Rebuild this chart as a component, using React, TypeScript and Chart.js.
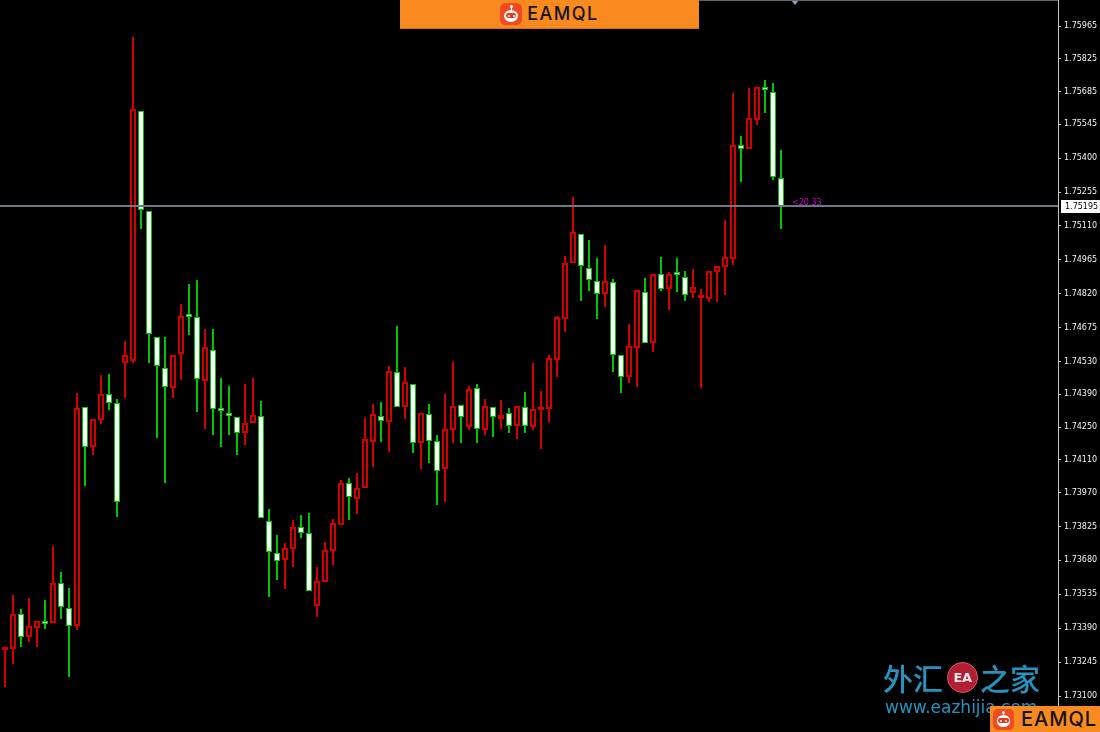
import React, { useEffect, useRef } from 'react';
import { Chart, registerables } from 'chart.js';

Chart.register(...registerables);

// Candle prices, oldest first
const opens = [
  1.73297, 1.73301, 1.73451, 1.73352, 1.73391, 1.73412, 1.73412, 1.73583, 1.73476, 1.73399,
  1.74336, 1.74165, 1.74280, 1.74391, 1.74353, 1.74524, 1.74533, 1.75602, 1.75174, 1.74635,
  1.74503, 1.74417, 1.74562, 1.74725, 1.74721, 1.74447, 1.74580, 1.74323, 1.74310, 1.74293,
  1.74225, 1.74267, 1.74297, 1.73848, 1.73712, 1.73682, 1.73729, 1.73823, 1.73797, 1.73485,
  1.73587, 1.73720, 1.73831, 1.74011, 1.73942, 1.73989, 1.74186, 1.74297, 1.74272, 1.74485,
  1.74336, 1.74434, 1.74182, 1.74306, 1.74190, 1.74071, 1.74237, 1.74344, 1.74250, 1.74417,
  1.74237, 1.74336, 1.74285, 1.74310, 1.74255, 1.74336, 1.74250, 1.74323, 1.74327, 1.74537,
  1.74712, 1.74952, 1.75076, 1.74930, 1.74875, 1.74819, 1.74870, 1.74558, 1.74464, 1.74588,
  1.74828, 1.74609, 1.74905, 1.74840, 1.74905, 1.74892, 1.74823, 1.74802, 1.74798, 1.74913,
  1.74934, 1.74969, 1.75456, 1.75439, 1.75563, 1.75696, 1.75683, 1.75315,
];

const highs = [
  1.73305, 1.73532, 1.73472, 1.73519, 1.73421, 1.73511, 1.73741, 1.73630, 1.73562, 1.74396,
  1.74336, 1.74285, 1.74473, 1.74477, 1.74370, 1.74618, 1.75918, 1.75602, 1.75174, 1.74635,
  1.74635, 1.74558, 1.74776, 1.74862, 1.74879, 1.74669, 1.74669, 1.74460, 1.74426, 1.74293,
  1.74434, 1.74460, 1.74361, 1.73900, 1.73788, 1.73754, 1.73853, 1.73874, 1.73883, 1.73652,
  1.73759, 1.73857, 1.74024, 1.74032, 1.74054, 1.74289, 1.74349, 1.74357, 1.74511, 1.74682,
  1.74507, 1.74434, 1.74310, 1.74349, 1.74216, 1.74391, 1.74528, 1.74344, 1.74426, 1.74434,
  1.74370, 1.74336, 1.74366, 1.74332, 1.74340, 1.74400, 1.74524, 1.74404, 1.74558, 1.74725,
  1.74982, 1.75234, 1.75076, 1.75050, 1.74973, 1.75029, 1.74883, 1.74558, 1.74691, 1.74836,
  1.74887, 1.74905, 1.74977, 1.74913, 1.74973, 1.74917, 1.74926, 1.74840, 1.74917, 1.74939,
  1.75135, 1.75679, 1.75495, 1.75700, 1.75704, 1.75734, 1.75721, 1.75435,
];

const lows = [
  1.73139, 1.73237, 1.73310, 1.73331, 1.73310, 1.73387, 1.73412, 1.73429, 1.73181, 1.73382,
  1.73998, 1.74131, 1.74263, 1.74323, 1.73865, 1.74374, 1.74524, 1.75097, 1.74524, 1.74203,
  1.74011, 1.74374, 1.74451, 1.74644, 1.74314, 1.74242, 1.74216, 1.74165, 1.74216, 1.74131,
  1.74173, 1.74267, 1.73861, 1.73523, 1.73596, 1.73558, 1.73652, 1.73776, 1.73549, 1.73438,
  1.73587, 1.73660, 1.73831, 1.73853, 1.73878, 1.73989, 1.74079, 1.74186, 1.74143, 1.74336,
  1.74285, 1.74139, 1.74071, 1.74096, 1.73917, 1.73930, 1.74182, 1.74182, 1.74237, 1.74182,
  1.74216, 1.74208, 1.74242, 1.74225, 1.74199, 1.74225, 1.74237, 1.74156, 1.74272, 1.74464,
  1.74657, 1.74952, 1.74789, 1.74832, 1.74712, 1.74763, 1.74485, 1.74396, 1.74438, 1.74421,
  1.74609, 1.74571, 1.74832, 1.74751, 1.74828, 1.74789, 1.74802, 1.74417, 1.74785, 1.74785,
  1.74815, 1.74943, 1.75298, 1.75439, 1.75542, 1.75593, 1.75307, 1.75097,
];

const closes = [
  1.73305, 1.73451, 1.73352, 1.73399, 1.73421, 1.73408, 1.73583, 1.73481, 1.73399, 1.74332,
  1.74165, 1.74285, 1.74391, 1.74353, 1.73930, 1.74558, 1.75610, 1.75178, 1.74648, 1.74511,
  1.74421, 1.74558, 1.74725, 1.74721, 1.74456, 1.74592, 1.74327, 1.74319, 1.74297, 1.74225,
  1.74267, 1.74302, 1.73861, 1.73716, 1.73677, 1.73733, 1.73823, 1.73797, 1.73549, 1.73592,
  1.73724, 1.73840, 1.74011, 1.73951, 1.73989, 1.74199, 1.74306, 1.74276, 1.74490, 1.74336,
  1.74443, 1.74182, 1.74310, 1.74190, 1.74062, 1.74242, 1.74340, 1.74293, 1.74413, 1.74242,
  1.74340, 1.74293, 1.74302, 1.74255, 1.74340, 1.74255, 1.74327, 1.74327, 1.74545, 1.74721,
  1.74952, 1.75084, 1.74939, 1.74879, 1.74819, 1.74875, 1.74558, 1.74464, 1.74597, 1.74836,
  1.74609, 1.74905, 1.74840, 1.74905, 1.74900, 1.74815, 1.74849, 1.74806, 1.74917, 1.74939,
  1.74977, 1.75456, 1.75439, 1.75572, 1.75704, 1.75691, 1.75319, 1.75195,
];

// Price scale labels, top to bottom
const priceTicks = [
  '1.75965', '1.75825', '1.75685', '1.75545', '1.75400', '1.75255', '1.75110',
  '1.74965', '1.74820', '1.74675', '1.74530', '1.74390', '1.74250', '1.74110',
  '1.73970', '1.73825', '1.73680', '1.73535', '1.73390', '1.73245', '1.73100',
];

const spreadLabel = '<20.33';
const brandName = 'EAMQL';
const siteTitleLeft = '外汇';
const siteTitleRight = '之家';
const siteBadge = 'EA';
const siteUrl = 'www.eazhijia.com';

const UP = '#d40000';
const DOWN = '#00c400';
const W = 1100;
const H = 732;
const AXIS_W = 42;
const SLOT = 8; // px per candle
const FIRST_X = 5;
const BANNER_RIGHT = 699;

function Logo({ size }: { size: number }) {
  const s = size;
  return (
    <div style={{ position: 'relative', width: s, height: s, borderRadius: s * 0.24, background: '#ef4a21', flex: 'none' }}>
      <div style={{ position: 'absolute', left: s / 2 - 1.5, top: s * 0.1, width: 3, height: 3, borderRadius: '50%', background: '#fff' }} />
      <div style={{ position: 'absolute', left: s / 2 - 0.5, top: s * 0.16, width: 1, height: s * 0.16, background: '#fff' }} />
      <div style={{ position: 'absolute', left: s * 0.17, top: s * 0.3, width: s * 0.66, height: s * 0.56, borderRadius: '50%', background: '#fff' }} />
      <div style={{ position: 'absolute', left: s * 0.26, top: s * 0.47, width: s * 0.48, height: s * 0.22, borderRadius: s * 0.11, background: '#e43a1a' }} />
      <div style={{ position: 'absolute', left: s * 0.34, top: s * 0.53, width: s * 0.1, height: s * 0.1, borderRadius: '50%', background: '#fff' }} />
      <div style={{ position: 'absolute', left: s * 0.56, top: s * 0.53, width: s * 0.1, height: s * 0.1, borderRadius: '50%', background: '#fff' }} />
    </div>
  );
}

export default function App() {
  const canvasRef = useRef<HTMLCanvasElement | null>(null);

  useEffect(() => {
    document.body.style.margin = '0';
    document.body.style.background = '#000';
    const canvas = canvasRef.current;
    if (!canvas) return;

    const n = closes.length;
    const idx = closes.map((_, i) => i);
    const isUp = (i: number) => closes[i] >= opens[i];
    const tickValues = priceTicks.map((t) => parseFloat(t));

    // price scale extents: 1.75965 sits 26px from the top, 1.73100 at 696px
    const pxPerPrice = (696 - 26) / (tickValues[0] - tickValues[tickValues.length - 1]);
    const yMax = tickValues[0] + 26 / pxPerPrice;
    const yMin = yMax - H / pxPerPrice;
    const xMin = -FIRST_X / SLOT;
    const xMax = xMin + (W - AXIS_W) / SLOT;

    const overlay = {
      id: 'bidOverlay',
      afterDatasetsDraw(chart: any) {
        const { ctx, chartArea, scales } = chart;
        const last = closes[n - 1];
        const py = Math.round(scales.y.getPixelForValue(last));
        ctx.save();
        ctx.strokeStyle = '#6d7889';
        ctx.lineWidth = 2;
        ctx.beginPath();
        ctx.moveTo(chartArea.left, py);
        ctx.lineTo(chartArea.right, py);
        ctx.stroke();

        const lx = scales.x.getPixelForValue(n - 1);
        ctx.fillStyle = '#cc00cc';
        ctx.font = '8px "DejaVu Sans"';
        ctx.textAlign = 'left';
        ctx.textBaseline = 'alphabetic';
        ctx.fillText(spreadLabel, lx + 11, py - 1);

        // chart shift marker at the top edge
        const mx = Math.round(lx + 14);
        ctx.fillStyle = '#8fa0b4';
        ctx.beginPath();
        ctx.moveTo(mx - 4, 0);
        ctx.lineTo(mx + 4, 0);
        ctx.lineTo(mx, 5);
        ctx.closePath();
        ctx.fill();

        ctx.strokeStyle = '#5c6470';
        ctx.lineWidth = 1;
        ctx.beginPath();
        ctx.moveTo(BANNER_RIGHT, 0.5);
        ctx.lineTo(chartArea.right, 0.5);
        ctx.stroke();
        ctx.restore();
      },
      afterDraw(chart: any) {
        const { ctx, chartArea, scales } = chart;
        const last = closes[n - 1];
        const py = Math.round(scales.y.getPixelForValue(last));
        ctx.save();
        ctx.fillStyle = '#ffffff';
        ctx.fillRect(chartArea.right + 3, py - 6, W - chartArea.right - 3, 13);
        ctx.fillStyle = '#000000';
        ctx.font = '8px "DejaVu Sans"';
        ctx.textAlign = 'left';
        ctx.textBaseline = 'middle';
        ctx.fillText(last.toFixed(5), chartArea.right + 7, py + 0.5);
        ctx.restore();
      },
    };

    const chart = new Chart(canvas, {
      type: 'bar',
      data: {
        datasets: [
          {
            label: 'range',
            data: idx.map((i) => ({ x: i, y: [lows[i], highs[i]] })) as any,
            backgroundColor: idx.map((i) => (isUp(i) ? UP : DOWN)),
            borderColor: idx.map((i) => (isUp(i) ? UP : DOWN)),
            borderWidth: 0,
            barThickness: 2,
            grouped: false,
            inflateAmount: 0,
            order: 2,
          } as any,
          {
            label: 'body',
            data: idx.map((i) => ({ x: i, y: [opens[i], closes[i]] })) as any,
            backgroundColor: idx.map((i) => (isUp(i) ? '#000000' : '#ffffff')),
            borderColor: idx.map((i) => (isUp(i) ? UP : DOWN)),
            borderWidth: idx.map((i) => (isUp(i) ? 2 : 1)),
            borderSkipped: false,
            barThickness: 6,
            minBarLength: 3,
            grouped: false,
            inflateAmount: 0,
            order: 1,
          } as any,
        ],
      },
      options: {
        animation: false,
        responsive: false,
        devicePixelRatio: 1,
        layout: { padding: 0 },
        plugins: { legend: { display: false }, tooltip: { enabled: false } },
        scales: {
          x: {
            type: 'linear',
            min: xMin,
            max: xMax,
            offset: false,
            display: false,
            grid: { display: false },
          },
          y: {
            type: 'linear',
            position: 'right',
            min: yMin,
            max: yMax,
            beginAtZero: false,
            afterBuildTicks: (scale: any) => {
              scale.ticks = tickValues.map((v) => ({ value: v }));
            },
            afterFit: (scale: any) => {
              scale.width = AXIS_W;
              scale.paddingTop = 0;
              scale.paddingBottom = 0;
            },
            ticks: {
              autoSkip: false,
              padding: 3,
              color: '#f2f2f2',
              font: { family: '"DejaVu Sans"', size: 8 },
              callback: (_v: any, i: number) => priceTicks[i],
            },
            grid: { drawOnChartArea: false, drawTicks: true, tickLength: 3, color: '#c8c8c8' },
            border: { display: true, color: '#c8c8c8', width: 1 },
          },
        },
      } as any,
      plugins: [overlay],
    });

    return () => chart.destroy();
  }, []);

  const blue = '#2694bf';

  return (
    <div style={{ position: 'relative', width: W, height: H, background: '#000', overflow: 'hidden' }}>
      <canvas ref={canvasRef} width={W} height={H} style={{ position: 'absolute', left: 0, top: 0, width: W, height: H }} />

      {/* top brand bar */}
      <div style={{ position: 'absolute', left: 400, top: 0, width: BANNER_RIGHT - 400, height: 28, background: '#f98a1f', borderBottom: '1px solid #d86f10', display: 'flex', alignItems: 'center', justifyContent: 'center', gap: 5 }}>
        <Logo size={22} />
        <span style={{ fontFamily: 'Inter, "DejaVu Sans", sans-serif', fontSize: 18, fontWeight: 500, letterSpacing: 1.5, color: '#141414', lineHeight: '18px' }}>{brandName}</span>
      </div>

      {/* site watermark */}
      <div style={{ position: 'absolute', left: 883, top: 657, display: 'flex', alignItems: 'center', color: blue, fontFamily: '"Noto Sans CJK SC", sans-serif', fontSize: 30, fontWeight: 500, lineHeight: '40px' }}>
        <span>{siteTitleLeft}</span>
        <span style={{ width: 29, height: 29, borderRadius: '50%', background: '#b21f33', border: '1px solid #d75a66', margin: '0 2px 0 4px', display: 'flex', alignItems: 'center', justifyContent: 'center', color: '#e6e6e6', fontFamily: '"DejaVu Sans", sans-serif', fontSize: 13, fontWeight: 700, lineHeight: '29px', letterSpacing: -0.5 }}>{siteBadge}</span>
        <span>{siteTitleRight}</span>
      </div>
      <div style={{ position: 'absolute', left: 885, top: 697, color: blue, fontFamily: '"DejaVu Sans", sans-serif', fontSize: 17, lineHeight: '20px', whiteSpace: 'nowrap' }}>{siteUrl}</div>

      {/* bottom brand bar */}
      <div style={{ position: 'absolute', left: 990, top: 706, width: 110, height: 26, background: '#f98a1f', display: 'flex', alignItems: 'center', gap: 7, paddingLeft: 3, boxSizing: 'border-box' }}>
        <Logo size={21} />
        <span style={{ fontFamily: 'Inter, "DejaVu Sans", sans-serif', fontSize: 20, fontWeight: 500, letterSpacing: 1, color: '#141414', lineHeight: '20px' }}>{brandName}</span>
      </div>
    </div>
  );
}
